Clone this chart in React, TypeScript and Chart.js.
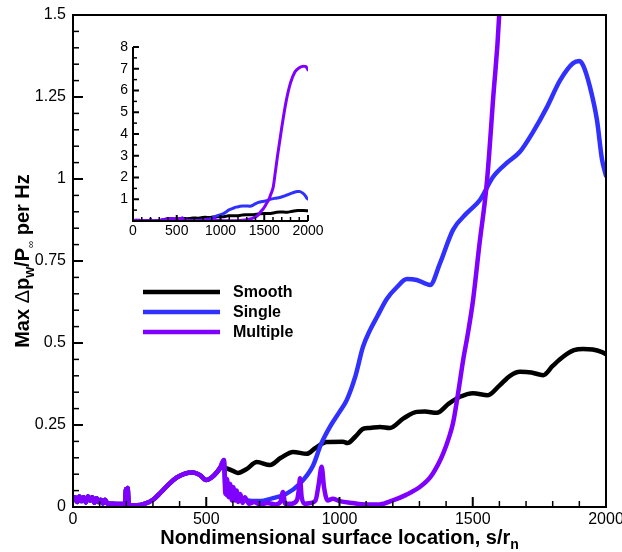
import React, { useEffect, useRef } from 'react';
import { Chart, registerables } from 'chart.js';

Chart.register(...registerables);

// ---- data (s/r_n , max dp/P per Hz) ----
// upstream of the roughness, all three cases coincide
const upstreamX = [0, 8, 16, 24, 32, 40, 48, 56, 64, 72, 80, 88, 96, 104, 112, 120, 130, 150, 175, 195, 199, 202, 205, 208, 212, 240, 270, 300, 330, 360, 390, 420, 450, 475, 500, 520, 540, 552];
const upstreamY = [0.02, 0.03, 0.015, 0.032, 0.018, 0.03, 0.014, 0.032, 0.02, 0.03, 0.013, 0.027, 0.015, 0.022, 0.011, 0.022, 0.01, 0.01, 0.009, 0.01, 0.055, 0.02, 0.058, 0.02, 0.005, 0.005, 0.01, 0.022, 0.045, 0.07, 0.09, 0.102, 0.105, 0.098, 0.082, 0.09, 0.106, 0.119];

const smoothX = [565, 600, 619, 650, 690, 739, 780, 826, 877, 910, 952, 1013, 1030, 1060, 1088, 1114, 1152, 1189, 1240, 1290, 1320, 1365, 1410, 1452, 1501, 1557, 1600, 1640, 1677, 1720, 1764, 1800, 1839, 1880, 1914, 1950, 1985, 2000];
const smoothY = [0.12, 0.11, 0.104, 0.115, 0.137, 0.128, 0.15, 0.168, 0.162, 0.18, 0.198, 0.199, 0.195, 0.215, 0.238, 0.241, 0.244, 0.241, 0.27, 0.29, 0.291, 0.287, 0.315, 0.336, 0.347, 0.341, 0.37, 0.4, 0.412, 0.41, 0.402, 0.43, 0.458, 0.478, 0.482, 0.48, 0.472, 0.466];

const singleX = [560, 566, 572, 580, 588, 596, 605, 620, 650, 700, 750, 800, 850, 900, 930, 964, 1000, 1027, 1060, 1088, 1115, 1141, 1178, 1215, 1253, 1290, 1340, 1377, 1426, 1478, 1527, 1576, 1628, 1677, 1726, 1779, 1827, 1876, 1900, 1915, 1940, 1966, 1985, 2000];
const singleY = [0.135, 0.143, 0.06, 0.035, 0.055, 0.028, 0.04, 0.025, 0.02, 0.018, 0.027, 0.04, 0.07, 0.125, 0.19, 0.244, 0.29, 0.326, 0.4, 0.488, 0.54, 0.58, 0.635, 0.67, 0.695, 0.692, 0.677, 0.743, 0.845, 0.896, 0.936, 1.006, 1.049, 1.083, 1.143, 1.22, 1.3, 1.353, 1.36, 1.345, 1.28, 1.18, 1.06, 1.01];

const multipleX = [560, 566, 572, 578, 584, 590, 596, 602, 608, 614, 620, 628, 636, 645, 660, 680, 700, 730, 760, 778, 788, 796, 820, 840, 847, 852, 858, 870, 890, 910, 922, 933, 942, 955, 975, 1000, 1050, 1100, 1150, 1200, 1250, 1300, 1340, 1370, 1390, 1410, 1426, 1445, 1464, 1482, 1501, 1525, 1553, 1576, 1602, 1625, 1650, 1700, 1750, 1800, 1850, 1900, 1950, 1975, 2000];
const multipleY = [0.135, 0.143, 0.04, 0.085, 0.03, 0.07, 0.02, 0.06, 0.02, 0.05, 0.015, 0.04, 0.012, 0.03, 0.01, 0.015, 0.008, 0.012, 0.008, 0.015, 0.046, 0.01, 0.01, 0.02, 0.05, 0.088, 0.03, 0.01, 0.012, 0.02, 0.07, 0.123, 0.06, 0.02, 0.025, 0.018, 0.012, 0.008, 0.008, 0.02, 0.037, 0.06, 0.09, 0.13, 0.165, 0.21, 0.256, 0.347, 0.448, 0.53, 0.63, 0.8, 0.99, 1.24, 1.55, 2.2, 2.95, 4.3, 5.5, 6.35, 6.85, 7.05, 7.12, 7.1, 6.95];

const seriesLabels = ['Smooth', 'Single', 'Multiple'];
const seriesColors = ['#000000', '#3030ff', '#7f00ff'];

const mainXTicks = [0, 500, 1000, 1500, 2000];
const mainYTicks = [0, 0.25, 0.5, 0.75, 1, 1.25, 1.5];
const insetYTicks = [1, 2, 3, 4, 5, 6, 7, 8];

const FONT = 'Liberation Sans, Arial, Helvetica, sans-serif';

function pts(xs: number[], ys: number[]) {
  return xs.map((x, i) => ({ x, y: ys[i] }));
}

function buildDatasets(width: number) {
  const up = pts(upstreamX, upstreamY);
  const all = [
    up.concat(pts(smoothX, smoothY)),
    up.concat(pts(singleX, singleY)),
    up.concat(pts(multipleX, multipleY)),
  ];
  return all.map((data, i) => ({
    label: seriesLabels[i],
    data,
    borderColor: seriesColors[i],
    backgroundColor: seriesColors[i],
    borderWidth: width,
    pointRadius: 0,
    fill: false,
    cubicInterpolationMode: 'monotone' as const,
    borderJoinStyle: 'round' as const,
    borderCapStyle: 'round' as const,
    order: 3 - i,
  }));
}

type TickOpts = {
  xMinor: number; xRatio: number; yMinor: number; yRatio: number;
  major: number; minor: number; frame: boolean; axisWidth: number;
};

function drawTicks(chart: any, o: TickOpts) {
  const { ctx, chartArea: a } = chart;
  const xs = chart.scales.x;
  const ys = chart.scales.y;
  ctx.save();
  ctx.strokeStyle = '#000';
  const nx = Math.round((xs.max - xs.min) / o.xMinor);
  for (let i = 0; i <= nx; i++) {
    const px = xs.getPixelForValue(xs.min + i * o.xMinor);
    const isMajor = i % o.xRatio === 0;
    ctx.lineWidth = isMajor ? 2 : 1.5;
    ctx.beginPath();
    ctx.moveTo(px, a.bottom);
    ctx.lineTo(px, a.bottom - (isMajor ? o.major : o.minor));
    ctx.stroke();
  }
  const ny = Math.round((ys.max - ys.min) / o.yMinor);
  for (let i = 0; i <= ny; i++) {
    const py = ys.getPixelForValue(ys.min + i * o.yMinor);
    const isMajor = i % o.yRatio === 0;
    ctx.lineWidth = isMajor ? 2 : 1.5;
    ctx.beginPath();
    ctx.moveTo(a.left, py);
    ctx.lineTo(a.left + (isMajor ? o.major : o.minor), py);
    ctx.stroke();
  }
  ctx.lineWidth = o.axisWidth;
  if (o.frame) {
    ctx.strokeRect(a.left, a.top, a.right - a.left, a.bottom - a.top);
  } else {
    ctx.beginPath();
    ctx.moveTo(a.left, a.top);
    ctx.lineTo(a.left, a.bottom);
    ctx.lineTo(a.right, a.bottom);
    ctx.stroke();
  }
  ctx.restore();
}

type Part = { t: string; font: string; dy?: number };

function drawRich(ctx: CanvasRenderingContext2D, parts: Part[], cx: number, y: number) {
  let total = 0;
  for (const p of parts) {
    ctx.font = p.font;
    total += ctx.measureText(p.t).width;
  }
  let x = cx - total / 2;
  ctx.textAlign = 'left';
  ctx.textBaseline = 'alphabetic';
  for (const p of parts) {
    ctx.font = p.font;
    ctx.fillText(p.t, x, y + (p.dy || 0));
    x += ctx.measureText(p.t).width;
  }
}

const B20 = `bold 20px ${FONT}`;

const mainDecor = {
  id: 'mainDecor',
  afterDatasetsDraw(chart: any) {
    drawTicks(chart, { xMinor: 100, xRatio: 5, yMinor: 0.05, yRatio: 5, major: 10, minor: 6, frame: true, axisWidth: 2 });
    const { ctx, chartArea: a } = chart;
    ctx.save();
    ctx.fillStyle = '#000';
    // x title
    drawRich(ctx, [
      { t: 'Nondimensional surface location, s/r', font: B20 },
      { t: 'n', font: `bold 14px ${FONT}`, dy: 5 },
    ], (a.left + a.right) / 2, 544);
    // y title
    ctx.save();
    ctx.translate(29, (a.top + a.bottom) / 2);
    ctx.rotate(-Math.PI / 2);
    drawRich(ctx, [
      { t: 'Max ', font: B20 },
      { t: 'Δ', font: `20px ${FONT}` },
      { t: 'p', font: B20 },
      { t: 'w', font: `bold 14px ${FONT}`, dy: 5 },
      { t: '/P', font: B20 },
      { t: '∞', font: `10px ${FONT}`, dy: 5 },
      { t: ' per Hz', font: B20 },
    ], 0, 0);
    ctx.restore();
    // legend
    const ds = chart.data.datasets;
    for (let i = 0; i < ds.length; i++) {
      const y = 292 + i * 20;
      ctx.strokeStyle = ds[i].borderColor;
      ctx.lineWidth = 4.5;
      ctx.beginPath();
      ctx.moveTo(143, y);
      ctx.lineTo(220, y);
      ctx.stroke();
      ctx.font = `bold 16px ${FONT}`;
      ctx.textAlign = 'left';
      ctx.textBaseline = 'middle';
      ctx.fillText(ds[i].label, 233, y + 1);
    }
    ctx.restore();
  },
};

const insetDecor = {
  id: 'insetDecor',
  afterDatasetsDraw(chart: any) {
    drawTicks(chart, { xMinor: 100, xRatio: 5, yMinor: 0.5, yRatio: 2, major: 6, minor: 4, frame: false, axisWidth: 2 });
  },
};

export default function App() {
  const mainRef = useRef<HTMLCanvasElement>(null);
  const insetRef = useRef<HTMLCanvasElement>(null);

  useEffect(() => {
    const main = new Chart(mainRef.current as HTMLCanvasElement, {
      type: 'line',
      data: { datasets: buildDatasets(4.5) as any },
      options: {
        responsive: false,
        animation: false,
        events: [],
        layout: { padding: { left: 0, top: 15, right: 16, bottom: 0 } },
        plugins: { legend: { display: false }, tooltip: { enabled: false } },
        scales: {
          x: {
            type: 'linear',
            min: 0,
            max: 2000,
            grid: { display: false, drawTicks: false },
            border: { display: false },
            afterBuildTicks: (s: any) => { s.ticks = mainXTicks.map((v) => ({ value: v })); },
            ticks: { color: '#000', font: { family: FONT, size: 16 }, padding: 3, maxRotation: 0, callback: (v: any) => String(v) },
            afterFit: (s: any) => { s.height = 45; s.paddingLeft = 0; s.paddingRight = 0; },
          },
          y: {
            type: 'linear',
            min: 0,
            max: 1.5,
            grid: { display: false, drawTicks: false },
            border: { display: false },
            afterBuildTicks: (s: any) => { s.ticks = mainYTicks.map((v) => ({ value: v })); },
            ticks: { color: '#000', font: { family: FONT, size: 16 }, padding: 7, callback: (v: any) => String(v) },
            afterFit: (s: any) => { s.width = 73; s.paddingTop = 0; s.paddingBottom = 0; },
          },
        },
      },
      plugins: [mainDecor],
    });

    const inset = new Chart(insetRef.current as HTMLCanvasElement, {
      type: 'line',
      data: { datasets: buildDatasets(3) as any },
      options: {
        responsive: false,
        animation: false,
        events: [],
        layout: { padding: { left: 0, top: 17, right: 24, bottom: 0 } },
        plugins: { legend: { display: false }, tooltip: { enabled: false } },
        scales: {
          x: {
            type: 'linear',
            min: 0,
            max: 2000,
            grid: { display: false, drawTicks: false },
            border: { display: false },
            afterBuildTicks: (s: any) => { s.ticks = mainXTicks.map((v) => ({ value: v })); },
            ticks: { color: '#000', font: { family: FONT, size: 14 }, padding: 2, maxRotation: 0, callback: (v: any) => String(v) },
            afterFit: (s: any) => { s.height = 24; s.paddingLeft = 0; s.paddingRight = 0; },
          },
          y: {
            type: 'linear',
            min: 0,
            max: 8,
            grid: { display: false, drawTicks: false },
            border: { display: false },
            afterBuildTicks: (s: any) => { s.ticks = insetYTicks.map((v) => ({ value: v })); },
            ticks: { color: '#000', font: { family: FONT, size: 14 }, padding: 5, callback: (v: any) => String(v) },
            afterFit: (s: any) => { s.width = 33; s.paddingTop = 0; s.paddingBottom = 0; },
          },
        },
      },
      plugins: [insetDecor],
    });

    return () => {
      main.destroy();
      inset.destroy();
    };
  }, []);

  return (
    <div style={{ position: 'absolute', left: 0, top: 0, width: 622, height: 552, background: '#fff' }}>
      <canvas ref={mainRef} width={622} height={552} style={{ position: 'absolute', left: 0, top: 0 }} />
      <canvas ref={insetRef} width={232} height={215} style={{ position: 'absolute', left: 100, top: 30 }} />
    </div>
  );
}
